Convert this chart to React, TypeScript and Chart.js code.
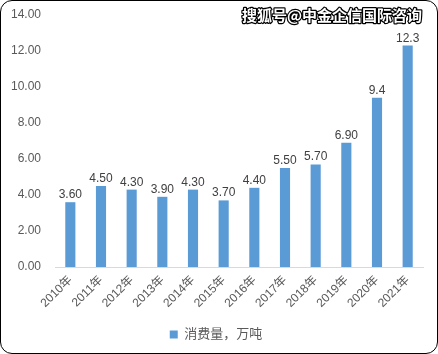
import React, { useEffect, useRef } from "react";
import { Chart, registerables } from "chart.js";

Chart.register(...registerables);

const categories = ["2010年", "2011年", "2012年", "2013年", "2014年", "2015年", "2016年", "2017年", "2018年", "2019年", "2020年", "2021年"];
const consumption = [3.6, 4.5, 4.3, 3.9, 4.3, 3.7, 4.4, 5.5, 5.7, 6.9, 9.4, 12.3];
const valueLabels = ["3.60", "4.50", "4.30", "3.90", "4.30", "3.70", "4.40", "5.50", "5.70", "6.90", "9.4", "12.3"];
const seriesName = "消费量，万吨";
const watermark = "搜狐号@中金企信国际咨询";

const FONT = '"Liberation Sans", Arial, "Noto Sans CJK SC", sans-serif';

const labelPlugin = {
  id: "valueLabels",
  afterDatasetsDraw(chart: any) {
    const ctx = chart.ctx;
    const meta = chart.getDatasetMeta(0);
    ctx.save();
    ctx.font = `12px ${FONT}`;
    ctx.fillStyle = "#404040";
    ctx.textAlign = "center";
    ctx.textBaseline = "alphabetic";
    meta.data.forEach((bar: any, i: number) => {
      ctx.fillText(valueLabels[i], bar.x, bar.y - 4);
    });
    ctx.restore();
  },
};

const watermarkPlugin = {
  id: "watermark",
  afterDraw(chart: any) {
    const ctx = chart.ctx;
    ctx.save();
    ctx.font = `bold 15px "Noto Sans CJK SC", sans-serif`;
    ctx.textAlign = "right";
    ctx.textBaseline = "middle";
    ctx.lineJoin = "round";
    ctx.lineWidth = 2.5;
    ctx.strokeStyle = "#000000";
    ctx.strokeText(watermark, 422, 15);
    ctx.fillStyle = "#ffffff";
    ctx.fillText(watermark, 422, 15);
    ctx.restore();
  },
};

export default function App() {
  const ref = useRef<HTMLCanvasElement>(null);
  useEffect(() => {
    document.body.style.margin = "0";
    const chart = new Chart(ref.current!, {
      type: "bar",
      data: {
        labels: categories,
        datasets: [
          {
            label: seriesName,
            data: consumption,
            backgroundColor: "#5B9BD5",
            borderWidth: 0,
            barPercentage: 0.66,
            categoryPercentage: 0.5,
          },
        ],
      },
      options: {
        animation: false,
        responsive: false,
        maintainAspectRatio: false,
        layout: { padding: { left: 9, right: 15, top: 15, bottom: 3 } },
        plugins: {
          tooltip: { enabled: false },
          legend: {
            position: "bottom",
            labels: {
              boxWidth: 8,
              boxHeight: 8,
              color: "#595959",
              font: { size: 13, family: FONT },
              padding: 10,
            },
          },
        },
        scales: {
          x: {
            grid: { display: false, drawTicks: false },
            border: { display: true, color: "#D9D9D9", width: 1 },
            ticks: {
              color: "#595959",
              font: { size: 12, family: FONT },
              minRotation: 45,
              maxRotation: 45,
              padding: 6,
            },
            afterFit: (s: any) => {
              s.height = 51;
            },
          },
          y: {
            min: 0,
            max: 14,
            grid: { display: false, drawTicks: false },
            border: { display: false },
            ticks: {
              stepSize: 2,
              color: "#595959",
              font: { size: 12, family: FONT },
              padding: 14,
              callback: (v: any) => Number(v).toFixed(2),
            },
            afterFit: (s: any) => {
              s.width = 46;
              s.paddingTop = 7;
              s.paddingBottom = 7;
            },
          },
        },
      },
      plugins: [labelPlugin, watermarkPlugin],
    });
    return () => chart.destroy();
  }, []);
  return (
    <div style={{ position: "fixed", left: 0, top: 0, width: 438, height: 354, background: "#fff" }}>
      <canvas ref={ref} width={438} height={354} style={{ position: "absolute", left: 0, top: 0 }} />
      <div
        style={{
          position: "absolute",
          left: 0,
          top: 0,
          width: 438,
          height: 354,
          boxSizing: "border-box",
          border: "1px solid #000",
          borderRadius: 12,
          pointerEvents: "none",
        }}
      />
    </div>
  );
}
